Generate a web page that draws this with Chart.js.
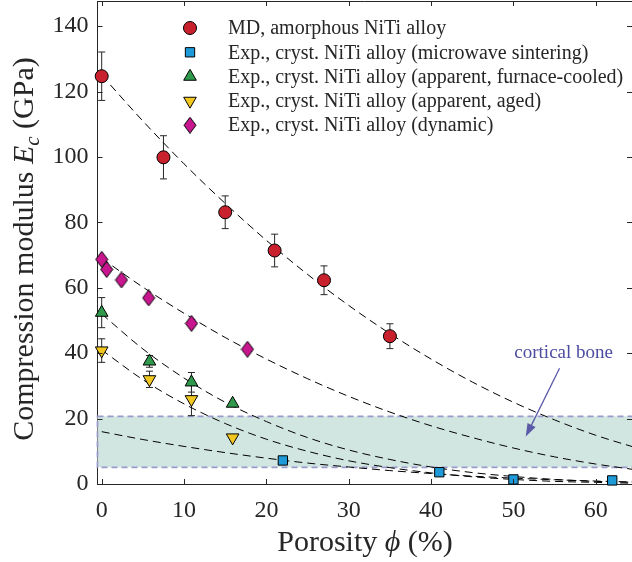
<!DOCTYPE html>
<html>
<head>
<meta charset="utf-8">
<script src="https://cdn.jsdelivr.net/npm/chart.js@4.4.0/dist/chart.umd.min.js"></script>
<style>
  html, body { margin: 0; padding: 0; background: #fff; }
</style>
</head>
<body>
<canvas id="chart" width="632" height="562"></canvas>
<script>
// ---- data ----
const seriesNames = [
    'MD, amorphous NiTi alloy',
    'Exp., cryst. NiTi alloy (microwave sintering)',
    'Exp., cryst. NiTi alloy (apparent, furnace-cooled)',
    'Exp., cryst. NiTi alloy (apparent, aged)',
    'Exp., cryst. NiTi alloy (dynamic)'
];

const mdPorosity = [0, 7.5, 15, 21, 27, 35];
const mdModulus = [124.7, 99.9, 83.1, 71.4, 62.3, 45.2];
const mdError = [7.4, 6.6, 5.0, 5.0, 4.4, 3.8];

const mwPorosity = [22, 41, 50, 62];
const mwModulus = [7.2, 3.6, 1.4, 1.1];

const fcPorosity = [0, 5.8, 10.9, 15.9];
const fcModulus = [52.4, 37.5, 31.1, 24.6];
const fcError = [4.6, 1.8, 3.0, 0];

const agedPorosity = [0, 5.8, 10.9, 15.9];
const agedModulus = [40.8, 32.0, 25.9, 14.2];
const agedError = [3.6, 2.5, 5.0, 0];

const dynPorosity = [0, 0.6, 2.4, 5.7, 10.9, 17.7];
const dynModulus = [68.7, 65.6, 62.4, 56.9, 49.1, 41.2];

// dashed fit curves, sampled by eye every 5 %
const fitPorosity = [0, 5, 10, 15, 20, 25, 30, 35, 40, 45, 50, 55, 60, 65];
const fitMD = [125, 111, 97.9, 85.8, 74.5, 64.1, 54.6, 46, 38.2, 31.2, 25, 19.6, 14.9, 11];
const fitMW = [16, 13.6, 11.5, 9.6, 7.9, 6.4, 5.2, 4.1, 3.2, 2.4, 1.8, 1.3, 0.9, 0.6];
const fitFC = [52, 41.3, 32.4, 25, 19.1, 14.2, 10.4, 7.5, 5.2, 3.5, 2.3, 1.4, 0.8, 0.5];
const fitAged = [41, 31.9, 24.5, 18.5, 13.7, 10, 7.1, 5, 3.4, 2.2, 1.4, 0.8, 0.5, 0.2];
const fitDyn = [69, 60.2, 52.2, 44.8, 38.2, 32.2, 26.8, 22, 17.8, 14.2, 11, 8.3, 6.1, 4.3];

const boneRange = [5.1, 20.7];   // cortical bone band (GPa)

const xTickValues = [0, 10, 20, 30, 40, 50, 60];
const yTickValues = [0, 20, 40, 60, 80, 100, 120, 140];

// ---- helpers ----
const SERIF = '"Liberation Serif", "DejaVu Serif", serif';
const AXIS_COLOR = '#262626';

function pts(xs, ys) {
    return xs.map((x, i) => ({ x: x, y: ys[i] }));
}

function diamondImage(fill) {
    const c = document.createElement('canvas');
    c.width = 14; c.height = 17;
    const g = c.getContext('2d');
    g.beginPath();
    g.moveTo(7, 0.5); g.lineTo(13, 8.5); g.lineTo(7, 16.5); g.lineTo(1, 8.5);
    g.closePath();
    g.fillStyle = fill; g.fill();
    g.strokeStyle = '#000'; g.lineWidth = 1; g.stroke();
    return c;
}

function markerSet(label, data, color, style, radius, rotation) {
    return {
        label: label,
        data: data,
        showLine: false,
        backgroundColor: color,
        borderColor: '#000',
        borderWidth: 1,
        pointStyle: style,
        pointRadius: radius,
        pointRotation: rotation || 0,
        clip: false
    };
}

function fitSet(ys) {
    return {
        type: 'line',
        data: pts(fitPorosity, ys),
        showLine: true,
        borderColor: '#000',
        borderWidth: 1,
        borderDash: [8, 5],
        pointRadius: 0,
        cubicInterpolationMode: 'monotone',
        fill: false
    };
}

const errorSets = [mdError, null, fcError, agedError, null];

// band + error bars under the markers
const backdropPlugin = {
    id: 'backdrop',
    beforeDatasetsDraw(chart) {
        const { ctx, chartArea, scales: { x, y } } = chart;
        const yTop = y.getPixelForValue(boneRange[1]);
        const yBot = y.getPixelForValue(boneRange[0]);
        ctx.save();
        ctx.fillStyle = 'rgb(210,230,225)';
        ctx.fillRect(chartArea.left, yTop, chartArea.right - chartArea.left + 5, yBot - yTop);
        ctx.strokeStyle = '#9a9acb';
        ctx.lineWidth = 1.8;
        ctx.setLineDash([6, 4]);
        ctx.strokeRect(chartArea.left, yTop, chartArea.right - chartArea.left + 5, yBot - yTop);
        ctx.restore();

        ctx.save();
        ctx.strokeStyle = AXIS_COLOR;
        ctx.lineWidth = 1;
        errorSets.forEach((errs, i) => {
            if (!errs) return;
            chart.data.datasets[i].data.forEach((p, j) => {
                if (!errs[j]) return;
                const px = x.getPixelForValue(p.x);
                const y1 = y.getPixelForValue(p.y + errs[j]);
                const y2 = y.getPixelForValue(p.y - errs[j]);
                ctx.beginPath();
                ctx.moveTo(px, y1); ctx.lineTo(px, y2);
                ctx.moveTo(px - 3.5, y1); ctx.lineTo(px + 3.5, y1);
                ctx.moveTo(px - 3.5, y2); ctx.lineTo(px + 3.5, y2);
                ctx.stroke();
            });
        });
        ctx.restore();
    }
};

function drawRich(ctx, parts, cx, cy, angle) {
    ctx.save();
    ctx.translate(cx, cy);
    ctx.rotate(angle);
    let total = 0;
    parts.forEach(p => { ctx.font = p.font; p.w = ctx.measureText(p.text).width; total += p.w; });
    let pos = -total / 2;
    ctx.textAlign = 'left';
    ctx.textBaseline = 'alphabetic';
    parts.forEach(p => {
        ctx.font = p.font;
        ctx.fillText(p.text, pos, p.dy || 0);
        pos += p.w;
    });
    ctx.restore();
}

// legend, annotation, titles, inward ticks
const overlayPlugin = {
    id: 'overlay',
    afterDraw(chart) {
        const { ctx, chartArea, scales: { x, y } } = chart;

        // inward ticks + top border
        ctx.save();
        ctx.strokeStyle = AXIS_COLOR;
        ctx.lineWidth = 1;
        ctx.beginPath();
        ctx.moveTo(chartArea.left, chartArea.top + 0.5);
        ctx.lineTo(chartArea.right, chartArea.top + 0.5);
        xTickValues.forEach(v => {
            const px = Math.round(x.getPixelForValue(v)) + 0.5;
            ctx.moveTo(px, chartArea.bottom); ctx.lineTo(px, chartArea.bottom - 5);
            ctx.moveTo(px, chartArea.top); ctx.lineTo(px, chartArea.top + 5);
        });
        yTickValues.forEach(v => {
            const py = Math.round(y.getPixelForValue(v)) + 0.5;
            ctx.moveTo(chartArea.left, py); ctx.lineTo(chartArea.left + 5, py);
            ctx.moveTo(chartArea.right, py); ctx.lineTo(chartArea.right - 5, py);
        });
        ctx.stroke();
        ctx.restore();

        // legend
        ctx.save();
        ctx.font = '20px ' + SERIF;
        ctx.textBaseline = 'middle';
        ctx.textAlign = 'left';
        seriesNames.forEach((name, i) => {
            const ds = chart.data.datasets[i];
            const ly = 28 + i * 24.3;
            ctx.fillStyle = ds.backgroundColor;
            ctx.strokeStyle = '#000';
            ctx.lineWidth = 1;
            Chart.helpers.drawPoint(ctx, {
                pointStyle: ds.pointStyle,
                rotation: ds.pointRotation,
                radius: ds.pointRadius,
                borderWidth: 1
            }, 190, ly);
            ctx.fillStyle = AXIS_COLOR;
            ctx.fillText(name, 228, ly + 1);
        });
        ctx.restore();

        // cortical bone annotation
        ctx.save();
        const tx = x.getPixelForValue(56.1), ty = y.getPixelForValue(40.2);
        ctx.font = '19px ' + SERIF;
        ctx.fillStyle = '#4c4ca0';
        ctx.textAlign = 'center';
        ctx.textBaseline = 'middle';
        ctx.fillText('cortical bone', tx, ty);
        const ax0 = x.getPixelForValue(55.6), ay0 = y.getPixelForValue(35.4);
        const ax1 = x.getPixelForValue(51.5), ay1 = y.getPixelForValue(14.5);
        const ang = Math.atan2(ay1 - ay0, ax1 - ax0);
        ctx.strokeStyle = '#5a5aa8';
        ctx.lineWidth = 1.3;
        ctx.beginPath();
        ctx.moveTo(ax0, ay0);
        ctx.lineTo(ax1 - 10 * Math.cos(ang), ay1 - 10 * Math.sin(ang));
        ctx.stroke();
        ctx.fillStyle = '#5a5aa8';
        ctx.beginPath();
        ctx.moveTo(ax1, ay1);
        ctx.lineTo(ax1 - 13 * Math.cos(ang) + 4.5 * Math.sin(ang), ay1 - 13 * Math.sin(ang) - 4.5 * Math.cos(ang));
        ctx.lineTo(ax1 - 13 * Math.cos(ang) - 4.5 * Math.sin(ang), ay1 - 13 * Math.sin(ang) + 4.5 * Math.cos(ang));
        ctx.closePath();
        ctx.fill();
        ctx.restore();

        // axis titles
        ctx.save();
        ctx.fillStyle = AXIS_COLOR;
        const big = '30px ' + SERIF;
        const ital = 'italic 30px ' + SERIF;
        const sub = 'italic 21px ' + SERIF;
        drawRich(ctx, [
            { text: 'Porosity ', font: big },
            { text: 'ϕ', font: ital },
            { text: ' (%)', font: big }
        ], 365, 551, 0);
        drawRich(ctx, [
            { text: 'Compression modulus ', font: big },
            { text: 'E', font: ital },
            { text: 'c', font: sub, dy: 6 },
            { text: ' (GPa)', font: big }
        ], 33, 249, -Math.PI / 2);
        ctx.restore();
    }
};

const chart = new Chart(document.getElementById('chart'), {
    type: 'scatter',
    data: {
        datasets: [
            markerSet(seriesNames[0], pts(mdPorosity, mdModulus), '#c8202c', 'circle', 6.5),
            markerSet(seriesNames[1], pts(mwPorosity, mwModulus), '#1f9ad8', 'rect', 6.6),
            markerSet(seriesNames[2], pts(fcPorosity, fcModulus), '#2f9a4c', 'triangle', 7.3),
            markerSet(seriesNames[3], pts(agedPorosity, agedModulus), '#f2c820', 'triangle', 7.3, 180),
            markerSet(seriesNames[4], pts(dynPorosity, dynModulus), '#c8168e', diamondImage('#c8168e'), 6),
            fitSet(fitMD),
            fitSet(fitMW),
            fitSet(fitFC),
            fitSet(fitAged),
            fitSet(fitDyn)
        ]
    },
    options: {
        responsive: false,
        animation: false,
        layout: { autoPadding: false, padding: { top: 1, right: 0, bottom: 0, left: 0 } },
        plugins: {
            legend: { display: false },
            tooltip: { enabled: false }
        },
        scales: {
            x: {
                type: 'linear',
                min: -0.51,
                max: 64.4,
                grid: { display: false, drawTicks: false },
                border: { display: true, color: AXIS_COLOR, width: 1 },
                ticks: { font: { family: SERIF, size: 24 }, color: AXIS_COLOR, padding: 12, maxRotation: 0 },
                afterBuildTicks: s => { s.ticks = xTickValues.map(v => ({ value: v })); },
                afterFit: s => { s.height = 78; s.paddingLeft = 0; s.paddingRight = 0; }
            },
            y: {
                type: 'linear',
                min: 0,
                max: 147.7,
                grid: { display: false, drawTicks: false },
                border: { display: true, color: AXIS_COLOR, width: 1 },
                ticks: { font: { family: SERIF, size: 24 }, color: AXIS_COLOR, padding: 9 },
                afterBuildTicks: s => { s.ticks = yTickValues.map(v => ({ value: v })); },
                afterFit: s => { s.width = 97.5; s.paddingTop = 0; s.paddingBottom = 0; }
            }
        }
    },
    plugins: [backdropPlugin, overlayPlugin]
});
</script>
</body>
</html>
